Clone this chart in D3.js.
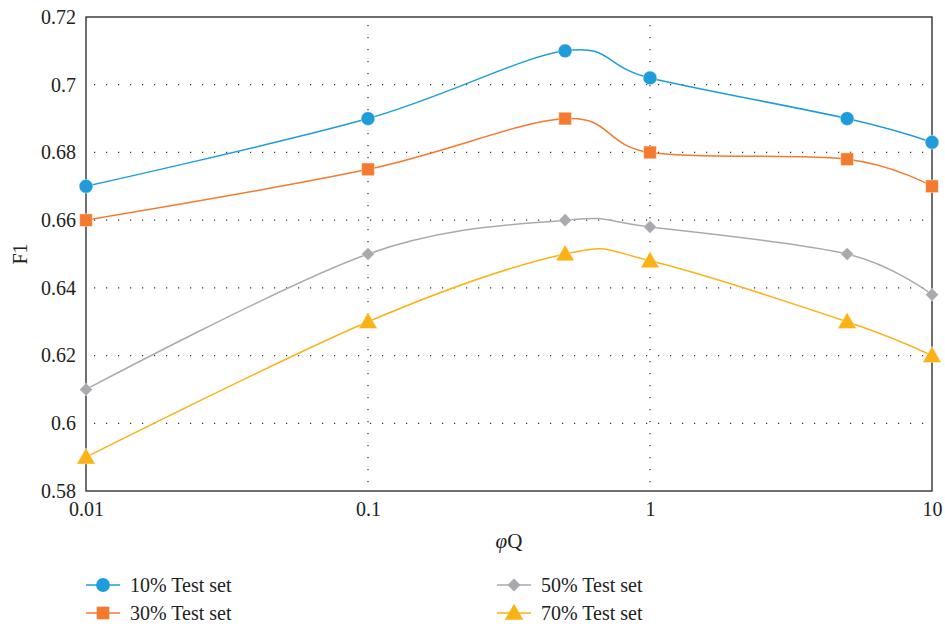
<!DOCTYPE html>
<html>
<head>
<meta charset="utf-8">
<script src="https://cdn.jsdelivr.net/npm/d3@7"></script>
<style>
  body { margin: 0; background: #fff; }
</style>
</head>
<body>
<div id="container"></div>
<script>
const width = 945;
const height = 624;

const xValues = [0.01, 0.1, 0.5, 1, 5, 10];
const seriesNames = ['10% Test set', '30% Test set', '50% Test set', '70% Test set'];
const s10 = [0.670, 0.690, 0.710, 0.702, 0.690, 0.683];
const s30 = [0.660, 0.675, 0.690, 0.680, 0.678, 0.670];
const s50 = [0.610, 0.650, 0.660, 0.658, 0.650, 0.638];
const s70 = [0.590, 0.630, 0.650, 0.648, 0.630, 0.620];
const yTicks = [0.58, 0.6, 0.62, 0.64, 0.66, 0.68, 0.7, 0.72];
const xTicks = [0.01, 0.1, 1, 10];

const colors = ['#1f9ddb', '#f47a2f', '#a9aaae', '#fbb217'];
const symbols = [d3.symbolCircle, d3.symbolSquare, d3.symbolSquare, d3.symbolTriangle];
const symSizes = [150, 160, 85, 150];
const symRotate = [0, 0, 45, 0];

const serif = "'Liberation Serif', 'Times New Roman', 'DejaVu Serif', serif";

const margin = { left: 86, right: 13, top: 17, bottom: 133 };

const x = d3.scaleLog().domain([0.01, 10]).range([margin.left, width - margin.right]);
const y = d3.scaleLinear().domain([0.58, 0.72]).range([height - margin.bottom, margin.top]);

let svg = d3.select('#container').append('svg')
    .attr('width', width)
    .attr('height', height)
    .style('font-family', serif);

// dotted grid
svg.append('g')
    .selectAll('line')
    .data(yTicks.filter(d => d > 0.585 && d < 0.715))
    .join('line')
    .attr('x1', margin.left + 8).attr('x2', width - margin.right)
    .attr('y1', d => y(d)).attr('y2', d => y(d))
    .attr('stroke', '#333').attr('stroke-width', 1.2)
    .attr('stroke-dasharray', '1.2,10.8');

svg.append('g')
    .selectAll('line')
    .data([0.1, 1])
    .join('line')
    .attr('x1', d => x(d)).attr('x2', d => x(d))
    .attr('y1', margin.top + 8).attr('y2', height - margin.bottom)
    .attr('stroke', '#333').attr('stroke-width', 1.2)
    .attr('stroke-dasharray', '1.2,10.8');

// frame
svg.append('rect')
    .attr('x', margin.left).attr('y', margin.top)
    .attr('width', width - margin.right - margin.left)
    .attr('height', height - margin.bottom - margin.top)
    .attr('fill', 'none').attr('stroke', '#222').attr('stroke-width', 1.3);

// axes
let xAxis = svg.append('g')
    .attr('transform', `translate(0,${height - margin.bottom})`)
    .call(d3.axisBottom(x).tickValues(xTicks).tickFormat(d => String(d)).tickSize(0).tickPadding(11));
xAxis.select('.domain').remove();
xAxis.selectAll('text').attr('fill', '#222').style('font-family', serif).style('font-size', '20px');

let yAxis = svg.append('g')
    .attr('transform', `translate(${margin.left},0)`)
    .call(d3.axisLeft(y).tickValues(yTicks).tickFormat(d => String(+d.toFixed(2))).tickSize(0).tickPadding(10));
yAxis.select('.domain').remove();
yAxis.selectAll('text').attr('fill', '#222').style('font-family', serif).style('font-size', '20px');

// axis titles
let xt = svg.append('text')
    .attr('x', (x(0.01) + x(10)) / 2)
    .attr('y', 548)
    .attr('text-anchor', 'middle')
    .style('font-size', '21px').attr('fill', '#222');
xt.append('tspan').attr('font-style', 'italic').text('φ');
xt.append('tspan').text('Q');

svg.append('text')
    .attr('transform', `translate(27,${(y(0.58) + y(0.72)) / 2}) rotate(-90)`)
    .attr('text-anchor', 'middle')
    .style('font-size', '20px').attr('fill', '#222')
    .text('F1');

// series
const allSeries = [s10, s30, s50, s70];
const line = d3.line()
    .x((d, i) => x(xValues[i]))
    .y(d => y(d))
    .curve(d3.curveCardinal.tension(0));

allSeries.forEach(function(vals, k) {
    svg.append('path')
        .datum(vals)
        .attr('d', line)
        .attr('fill', 'none')
        .attr('stroke', colors[k])
        .attr('stroke-width', 1.5);
});

allSeries.forEach(function(vals, k) {
    svg.append('g')
        .selectAll('path')
        .data(vals)
        .join('path')
        .attr('transform', (d, i) => `translate(${x(xValues[i])},${y(d) + (k === 3 ? 1.5 : 0)}) rotate(${symRotate[k]})`)
        .attr('d', d3.symbol().type(symbols[k]).size(symSizes[k]))
        .attr('fill', colors[k])
        .attr('stroke', '#fff').attr('stroke-opacity', 0.5).attr('stroke-width', 0.8);
});

// legend
const legendPos = [[86, 585], [86, 613], [497, 585], [497, 613]];
seriesNames.forEach(function(name, k) {
    let g = svg.append('g').attr('transform', `translate(${legendPos[k][0]},${legendPos[k][1]})`);
    g.append('line')
        .attr('x1', 0).attr('x2', 34).attr('y1', 0).attr('y2', 0)
        .attr('stroke', colors[k]).attr('stroke-width', 1.5);
    g.append('path')
        .attr('transform', `translate(17,${k === 3 ? 1.5 : 0}) rotate(${symRotate[k]})`)
        .attr('d', d3.symbol().type(symbols[k]).size(symSizes[k]))
        .attr('fill', colors[k]);
    g.append('text')
        .attr('x', 44).attr('y', 7)
        .style('font-size', '20px').attr('fill', '#222')
        .text(name);
});
</script>
</body>
</html>
